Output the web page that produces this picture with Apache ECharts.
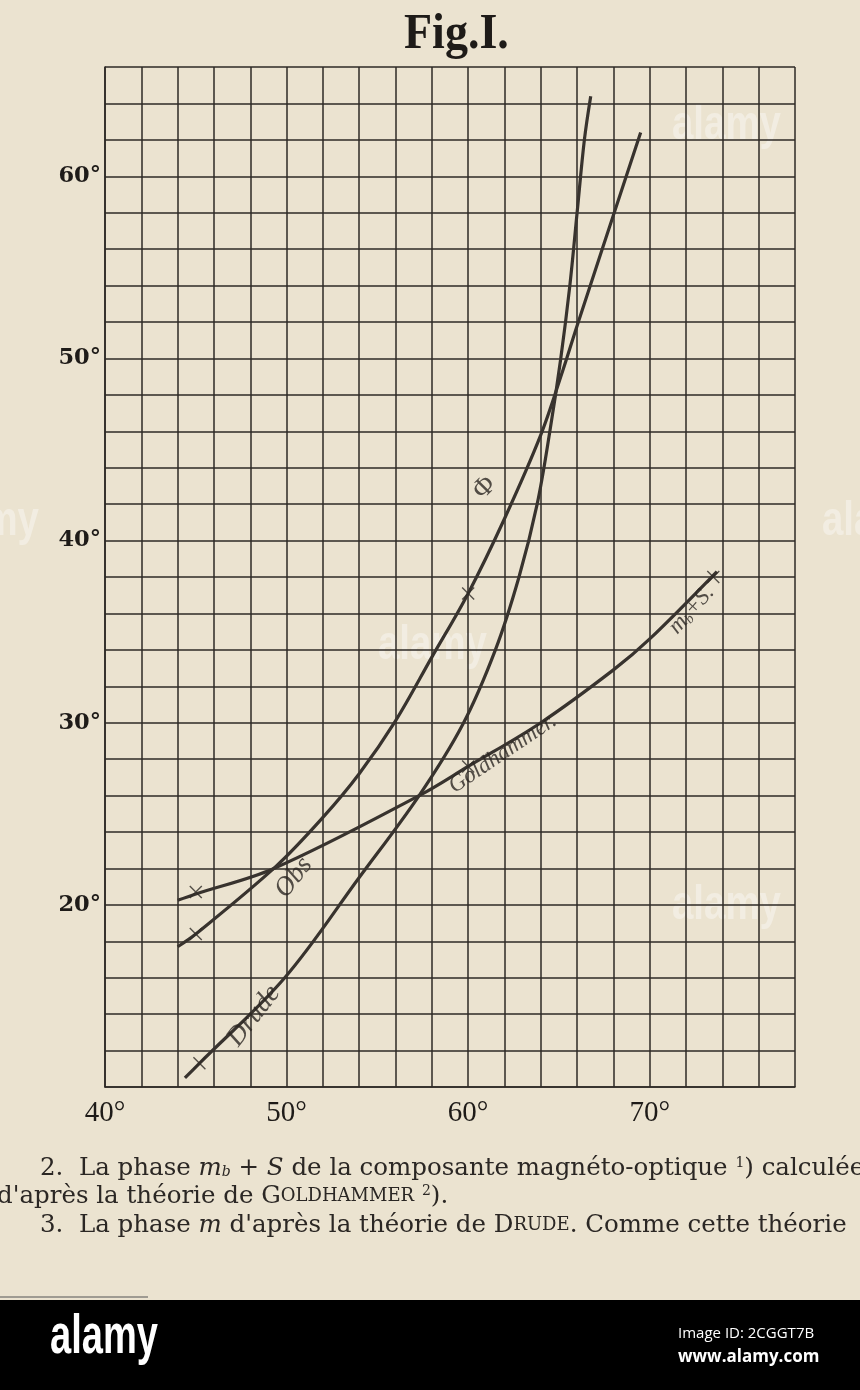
<!DOCTYPE html>
<html>
<head>
<meta charset="utf-8">
<script src="https://cdn.jsdelivr.net/npm/echarts@6/dist/echarts.min.js"></script>
<style>
html,body{margin:0;padding:0;background:#ebe3d0;}
#c{width:860px;height:1390px;}
</style>
</head>
<body>
<div id="c"></div>
<script>
// ---- data (x: degrees, y: degrees) ----
const xLabelValues = [40, 50, 60, 70];
const yLabelValues = [20, 30, 40, 50, 60];

const goldhammer = [[44,20.25],[45,20.6],[49.3,22.0],[57.3,26.0],[60,27.6],[64,30.0],[68,32.9],[70,34.6],[73.7,38.3]];
const obs = [[44,17.7],[45,18.4],[49.4,22.1],[52,24.8],[54,27.2],[56,30.1],[58,33.6],[60,37.1],[62,41.2],[64,45.8],[65.2,49.3],[66,51.8],[69.5,62.4]];
const drude = [[44.4,10.5],[45.2,11.3],[49.9,16.0],[54,21.5],[57.3,26.0],[59.7,29.9],[61.5,34.0],[62.8,38.0],[63.8,42.0],[64.5,46.0],[65.1,50.0],[65.6,54.0],[66.0,58.0],[66.4,62.0],[66.75,64.4]];

const goldMarks = [[45,20.7],[60,27.6],[73.5,38.0]];
const obsMarks = [[45,18.4],[60,37.1]];
const drudeMarks = [[45.2,11.3]];

const curveNotes = [
  {name:'Obs', at:[50.4,21.5]},
  {name:'Drude', at:[48.2,13.9]},
  {name:'Goldhammer.', at:[61.9,28.3]},
  {name:'mbS', at:[72.3,36.2]},
  {name:'Phi', at:[60.9,42.9]}
];

const ink = '#2e2a26';
const chart = echarts.init(document.getElementById('c'), null, {renderer:'canvas'});

const crossPath = 'path://M0,0L10,10M10,0L0,10';
function marks(d){
  return {type:'scatter', data:d, symbol:crossPath, symbolSize:12, silent:true,
    itemStyle:{color:'none', borderColor:ink, borderWidth:1.4}, z:5};
}
function curve(d){
  return {type:'line', data:d, smooth:0.35, showSymbol:false, silent:true,
    lineStyle:{color:'#38332e', width:3.2}, z:4};
}
const scriptFont = '"Liberation Serif", "DejaVu Serif", serif';
const noteStyle = {
  Obs:{formatter:'Obs', rotate:52, fontSize:27},
  Drude:{formatter:'Drude', rotate:52, fontSize:27},
  'Goldhammer.':{formatter:'Goldhammer.', rotate:34, fontSize:23},
  mbS:{formatter:'{a|m}{s|b}{a|+S.}', rotate:48, fontSize:23},
  Phi:{formatter:'Φ', rotate:45, fontSize:28, fontStyle:'normal'}
};
const wm = 'rgba(255,255,255,0.38)';

const option = {
  backgroundColor:'#ebe3d0',
  animation:false,
  grid:{left:105, right:65, top:67, bottom:303, containLabel:false},
  xAxis:{type:'value', min:40, max:78, interval:2,
    axisLine:{show:true, lineStyle:{color:ink, width:1.6}},
    axisTick:{show:false},
    splitLine:{show:true, lineStyle:{color:ink, width:1.5}},
    axisLabel:{margin:12, color:'#1e1b18', fontSize:29, fontFamily:'"Liberation Serif", serif',
      formatter:v => xLabelValues.includes(v) ? v + '°' : ''}
  },
  yAxis:{type:'value', min:10, max:66, interval:2,
    axisLine:{show:true, lineStyle:{color:ink, width:1.6}},
    axisTick:{show:false},
    splitLine:{show:true, lineStyle:{color:ink, width:1.5}},
    axisLabel:{margin:4, color:'#1e1b18', fontSize:22.5, fontWeight:'bold', fontFamily:'"DejaVu Serif", serif',
      formatter:v => yLabelValues.includes(v) ? v + '°' : ''}
  },
  series:[
    curve(goldhammer), curve(obs), curve(drude),
    marks(goldMarks), marks(obsMarks), marks(drudeMarks),
    {type:'scatter', symbolSize:0, silent:true, z:6,
      data: curveNotes.map(n => ({value:n.at, label:Object.assign({show:true, position:'inside',
        color:'#2a2622', fontFamily:scriptFont, fontStyle:'italic',
        rich:{a:{fontSize:23, fontStyle:'italic', fontFamily:scriptFont, color:'#2a2622'},
              s:{fontSize:14, fontStyle:'italic', fontFamily:scriptFont, color:'#2a2622', padding:[10,0,0,0]}}
      }, noteStyle[n.name])}))
    }
  ],
  graphic:[
    {type:'text', x:404, y:10, scaleX:0.92, style:{text:'Fig.I.', font:'bold 50px "Liberation Serif", serif', fill:'#1e1b18'}},
    // faint watermarks
    {type:'text', x:672, y:102, scaleX:0.8, style:{text:'alamy', font:'bold 48px "Liberation Sans", sans-serif', fill:wm}},
    {type:'text', x:378, y:622, scaleX:0.8, style:{text:'alamy', font:'bold 48px "Liberation Sans", sans-serif', fill:wm}},
    {type:'text', x:672, y:882, scaleX:0.8, style:{text:'alamy', font:'bold 48px "Liberation Sans", sans-serif', fill:wm}},
    {type:'text', x:-70, y:498, scaleX:0.8, style:{text:'alamy', font:'bold 48px "Liberation Sans", sans-serif', fill:wm}},
    {type:'text', x:822, y:498, scaleX:0.8, style:{text:'alamy', font:'bold 48px "Liberation Sans", sans-serif', fill:wm}},
    // body text
    {type:'text', x:40, y:1156, style:{
      text:'{n|2.  La phase }{i|m}{sb|b}{n| + }{i|S}{n| de la composante magnéto-optique }{sp|1}{n|) calculée}',
      rich:{n:{font:'24.5px "DejaVu Serif", serif', fill:'#2b2724'},
            i:{font:'italic 24.5px "DejaVu Serif", serif', fill:'#2b2724'},
            sb:{font:'italic 14px "DejaVu Serif", serif', fill:'#2b2724', padding:[8,0,0,0]},
            sp:{font:'14px "DejaVu Serif", serif', fill:'#2b2724', padding:[0,0,10,0]}}}},
    {type:'text', x:-3, y:1184, style:{
      text:"{n|d'après la théorie de G}{sc|OLDHAMMER}{n| }{sp|2}{n|).}",
      rich:{n:{font:'24.5px "DejaVu Serif", serif', fill:'#2b2724'},
            sc:{font:'18px "DejaVu Serif", serif', fill:'#2b2724'},
            sp:{font:'14px "DejaVu Serif", serif', fill:'#2b2724', padding:[0,0,10,0]}}}},
    {type:'text', x:40, y:1213, style:{
      text:"{n|3.  La phase }{i|m}{n| d'après la théorie de D}{sc|RUDE}{n|. Comme cette théorie}",
      rich:{n:{font:'24.5px "DejaVu Serif", serif', fill:'#2b2724'},
            i:{font:'italic 24.5px "DejaVu Serif", serif', fill:'#2b2724'},
            sc:{font:'18px "DejaVu Serif", serif', fill:'#2b2724'}}}},
    {type:'line', shape:{x1:0, y1:1297, x2:148, y2:1297}, style:{stroke:'#555', lineWidth:1.2}},
    // banner
    {type:'rect', shape:{x:0, y:1300, width:860, height:90}, style:{fill:'#000'}},
    {type:'text', x:50, y:1310, scaleX:0.68, style:{text:'alamy', font:'bold 56px "Liberation Sans", sans-serif', fill:'#fff'}},
    {type:'text', x:678, y:1326, style:{text:'Image ID: 2CGGT7B', font:'15px "Open Sans", sans-serif', fill:'#fff'}},
    {type:'text', x:678, y:1349, style:{text:'www.alamy.com', font:'bold 17px "Open Sans", sans-serif', fill:'#fff'}}
  ]
};
chart.setOption(option);
</script>
</body>
</html>
